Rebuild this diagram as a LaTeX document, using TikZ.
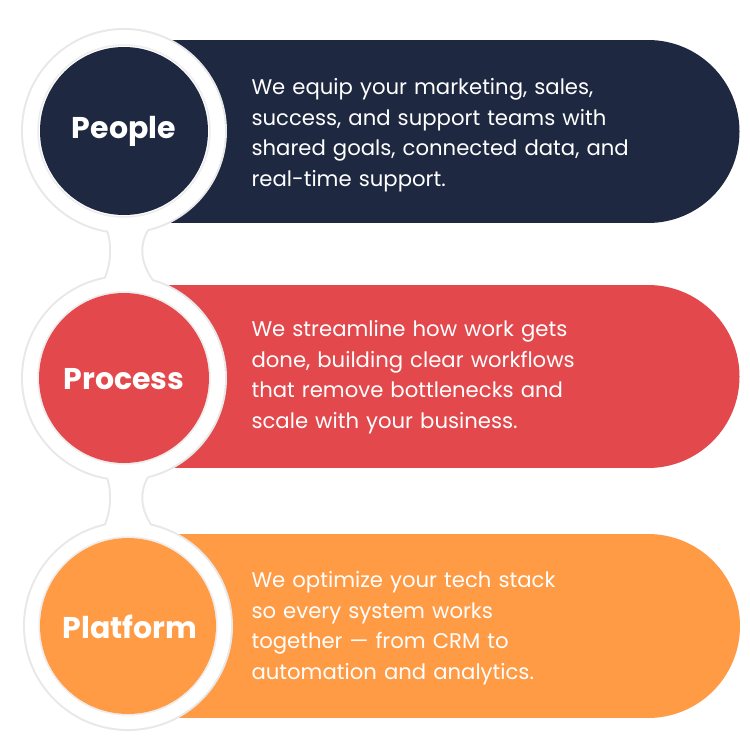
\documentclass[tikz,border=0pt]{standalone}
\usepackage{fontspec}
\setmainfont{Poppins}
\begin{document}
\begin{tikzpicture}[x=1pt,y=-1pt,
  lbl/.style={text=white,font=\fontsize{30}{36}\selectfont\bfseries},
  body/.style={text=white,anchor=west,align=left,text width=420pt,font=\fontsize{21.2}{30.5}\selectfont},
  ringout/.style={draw=black!9,line width=4pt},
  ringfill/.style={fill=white}]
\definecolor{navy}{HTML}{1E2840}
\definecolor{redc}{HTML}{E2484C}
\definecolor{orng}{HTML}{FF9B45}
\useasboundingbox (0,0) rectangle (750,750);
\fill[white] (0,0) rectangle (750,750);
% bars
\fill[navy] (150,40) rectangle (648,223);
\fill[navy] (648,131.5) circle[radius=91.5];
\fill[redc] (150,285) rectangle (648,468);
\fill[redc] (648,376.5) circle[radius=91.5];
\fill[orng] (150,534) rectangle (648,718);
\fill[orng] (648,626) circle[radius=92];
% ring shapes: stroke then fill
\foreach \pass/\sty in {1/ringout,2/ringfill}{
  \path[\sty] (124,131) circle[radius=101];
  \path[\sty] (124,378) circle[radius=101];
  \path[\sty] (128,626) circle[radius=103];
  \path[\sty] (100,215) .. controls (115,235) and (115,265) .. (100,290) -- (160,290) .. controls (135,265) and (135,235) .. (160,215) -- cycle;
  \path[\sty] (100,462) .. controls (115,482) and (115,512) .. (100,537) -- (160,537) .. controls (135,512) and (135,482) .. (160,462) -- cycle;
}
\draw[black!7,line width=1.5pt] (124,131) circle[radius=86];
\draw[black!7,line width=1.5pt] (124,378) circle[radius=86];
\draw[black!7,line width=1.5pt] (128,626) circle[radius=89];
\node[circle,fill=navy,minimum size=168pt,inner sep=0] (c1) at (124,131) {};
\node[circle,fill=redc,minimum size=170pt,inner sep=0] (c2) at (124,378) {};
\node[circle,fill=orng,minimum size=176pt,inner sep=0] (c3) at (128,626) {};
\node[lbl] (l1) at (124,131) {People};
\node[lbl] (l2) at (124,379) {Process};
\node[lbl] (l3) at (130,627) {Platform};
\node[body] (t1) at (248,135) {We equip your marketing, sales,\\success, and support teams with\\shared goals, connected data, and\\real-time support.};
\node[body] (t2) at (248,377) {We streamline how work gets\\done, building clear workflows\\that remove bottlenecks and\\scale with your business.};
\node[body] (t3) at (248,628) {We optimize your tech stack\\so every system works\\together — from CRM to\\automation and analytics.};
\end{tikzpicture}
\end{document}
